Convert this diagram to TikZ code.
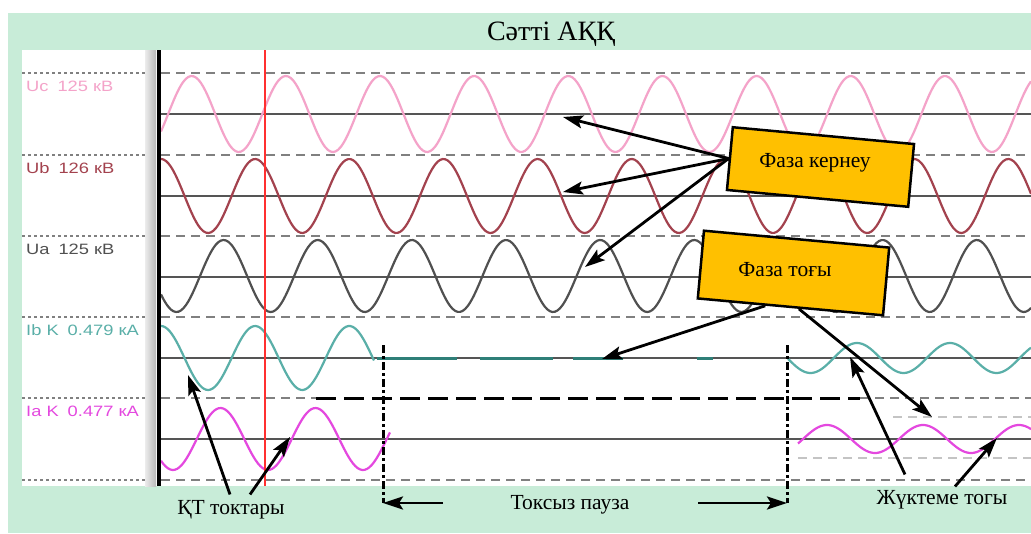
\documentclass[tikz,border=0pt]{standalone}
\usepackage{fontspec}
\setmainfont{Liberation Serif}
\newfontfamily\lblfont[FakeStretch=1.22]{Liberation Sans}
\usetikzlibrary{arrows.meta,calc}
\definecolor{bggreen}{HTML}{C8ECD8}
\definecolor{ucpink}{HTML}{F4A3C9}
\definecolor{ubred}{HTML}{A3424E}
\definecolor{uagray}{HTML}{505050}
\definecolor{ibteal}{HTML}{5AAFA8}
\definecolor{ibdark}{HTML}{2F7F78}
\definecolor{iamag}{HTML}{E448DF}
\definecolor{boxyel}{HTML}{FFC000}
\definecolor{zerogray}{HTML}{555555}
\definecolor{dashgray}{HTML}{808080}
\definecolor{faintgray}{HTML}{C4C4C4}
\definecolor{redline}{HTML}{FF3030}
\begin{document}
\begin{tikzpicture}[x=1pt,y=-1pt,
  wave/.style={line width=2.2pt},
  zero/.style={zerogray,line width=1.5pt},
  sep/.style={dashgray,line width=1.5pt,dash pattern=on 9pt off 6pt},
  lsep/.style={dashgray,line width=1.5pt,dash pattern=on 3.3pt off 2.7pt},
  faint/.style={faintgray,line width=1.5pt,dash pattern=on 9pt off 6pt},
  arr/.style={line width=2.8pt,-{Stealth[length=20pt,width=13pt,inset=4pt]}},
  callout/.style={draw=black,line width=2.5pt,fill=boxyel,minimum width=182pt,minimum height=63pt},
  pauseline/.style={line width=3pt,dash pattern=on 8pt off 3pt on 3pt off 3pt},
  annot/.style={font=\fontsize{21.5}{23}\selectfont,inner sep=2pt},
  chan/.style={font=\lblfont\fontsize{15}{16}\selectfont,anchor=west,inner sep=0pt}]
\useasboundingbox (0,0) rectangle (1031,533);
\fill[white] (0,0) rectangle (1031,533);
\fill[bggreen] (8,13) rectangle (1031,533);
\fill[white] (22,50) rectangle (1031,486);
% title
\node[font=\fontsize{28}{30}\selectfont] (title) at (551,34) {Сәтті АҚҚ};
% left gray bar and axis
\shade[left color=gray!15,right color=gray!55] (145,50) rectangle (156,486);
% separators
\foreach \yy in {73,155,236,317,398,480}{
  \draw[lsep] (22,\yy) -- (145,\yy);
}
\foreach \yy in {73,155,236,317,480}{
  \draw[sep] (161,\yy) -- (1031,\yy);
}
\draw[sep] (161,398) -- (316,398);
\draw[sep] (860,398) -- (1031,398);
\draw[faint] (893,417) -- (1031,417);
\draw[faint] (798,458) -- (1031,458);
% zero lines
\foreach \yy in {114,196,277,358,439}{
  \draw[zero] (161,\yy) -- (1031,\yy);
}
% channel labels
\node[chan,ucpink] (luc) at (26,86) {Uc\hspace{9pt}125 кВ};
\node[chan,ubred] (lub) at (26,168) {Ub\hspace{9pt}126 кВ};
\node[chan,uagray] (lua) at (26,249) {Ua\hspace{9pt}125 кВ};
\node[chan,ibteal] (lib) at (26,330) {Ib K\hspace{9pt}0.479 кА};
\node[chan,iamag] (lia) at (26,411) {Ia K\hspace{9pt}0.477 кА};
% waves
\draw[wave,ucpink] plot[domain=161:1031,samples=350,smooth] (\x,{114-38*cos((\x-191.7)/94.15*360)});
\draw[wave,ubred] plot[domain=161:1031,samples=350,smooth] (\x,{196-37*cos((\x-161)/94.15*360)});
\draw[wave,uagray] plot[domain=161:1031,samples=350,smooth] (\x,{276+36*cos((\x-176.5)/94.15*360)});
\draw[wave,ibteal] plot[domain=161:374,samples=100,smooth] (\x,{358-32*cos((\x-161)/94.15*360)});
\draw[wave,iamag] plot[domain=161:390,samples=100,smooth] (\x,{439+31*cos((\x-173)/95*360)});
\draw[wave,ibteal] plot[domain=788:1031,samples=120,smooth] (\x,{358-15*cos((\x-857)/93*360)});
\draw[wave,iamag] plot[domain=798:1031,samples=120,smooth] (\x,{439-14*cos((\x-827)/96*360)});
% dead Ib trace
\foreach \a/\b in {377/457,480/553,573/623,697/713}{
  \draw[ibdark,line width=3pt] (\a,358) -- (\b,358);
}
% axis and red cursor
\draw[line width=3.5pt] (159,50) -- (159,486);
\draw[redline,line width=2pt] (265,50) -- (265,486);
% black dashed level
\draw[line width=3pt,dash pattern=on 20pt off 8pt] (316,398) -- (860,398);
% pause markers
\coordinate (p1t) at (383,345);
\coordinate (p1b) at (383,503);
\coordinate (p2t) at (787,345);
\coordinate (p2b) at (787,503);
\coordinate (pl) at (443,503);
\coordinate (pr) at (698,503);
\draw[pauseline] (p1t) -- (p1b);
\draw[pauseline] (p2t) -- (p2b);
\draw[arr] (pl) -- (p1b);
\draw[arr] (pr) -- (p2b);
\node[annot] (pause) at (570,505) {Токсыз пауза};
% callout boxes
\node[callout,rotate=-5.3] (kernbox) at (820.5,167) {};
\node[annot] (kern) at (815,163) {Фаза кернеу};
\node[callout,rotate=-5.2,minimum width=186pt,minimum height=68pt] (togbox) at (793.5,273) {};
\node[annot] (tog) at (785,270) {Фаза тоғы};
% arrow targets
\coordinate (k1) at (563,117);
\coordinate (k2) at (563,192);
\coordinate (k3) at (585,267);
\coordinate (t1) at (602,359);
\coordinate (t2) at (932,417);
\coordinate (s1) at (188,375);
\coordinate (s2) at (290,437);
\coordinate (l1) at (850,357);
\coordinate (l2) at (997,438);
\draw[arr] (kernbox.west) -- (k1);
\draw[arr] (kernbox.west) -- (k2);
\draw[arr] (kernbox.west) -- (k3);
\draw[arr] ($(togbox.south west)!0.366!(togbox.south east)$) -- (t1);
\draw[arr] ($(togbox.south west)!0.546!(togbox.south east)$) -- (t2);
% bottom labels
\node[annot] (kt) at (231,510) {ҚТ токтары};
\node[annot] (load) at (942,500) {Жүктеме тогы};
\draw[arr] ($(kt.north)+(-1,-4)$) -- (s1);
\draw[arr] ($(kt.north)+(19,-4)$) -- (s2);
\draw[arr] ($(load.north)+(-37,-14)$) -- (l1);
\draw[arr] ($(load.north)+(13,-2)$) -- (l2);
\end{tikzpicture}
\end{document}
